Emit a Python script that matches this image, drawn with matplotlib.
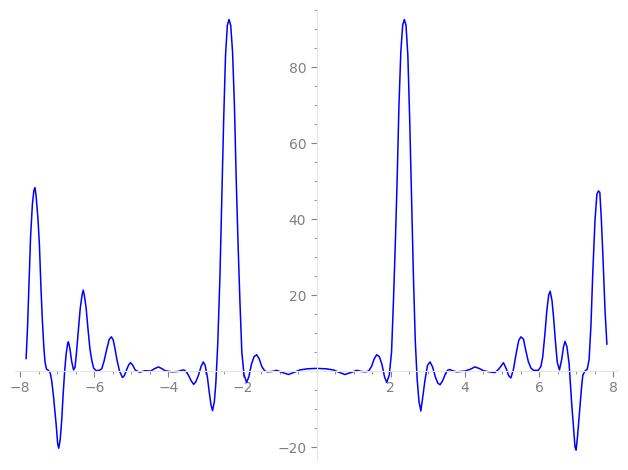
import numpy as np
import matplotlib
matplotlib.use("Agg")
import matplotlib.pyplot as plt
from matplotlib.ticker import MultipleLocator, FuncFormatter

# valores (mitad izquierda)
x_izq = [-7.84, -7.80, -7.76, -7.72, -7.67, -7.63, -7.60, -7.57, -7.52, -7.48,
         -7.44, -7.40, -7.36, -7.33, -7.29, -7.24, -7.19, -7.15, -7.10, -7.06,
         -7.03, -6.99, -6.96, -6.92, -6.88, -6.84, -6.80, -6.76, -6.72, -6.70,
         -6.66, -6.61, -6.56, -6.52, -6.48, -6.43, -6.38, -6.33, -6.30, -6.27,
         -6.22, -6.17, -6.12, -6.07, -6.02, -5.95, -5.86, -5.80, -5.74, -5.67,
         -5.60, -5.54, -5.49, -5.44, -5.39, -5.32, -5.24, -5.19, -5.13, -5.07,
         -5.02, -4.96, -4.90, -4.78, -4.63, -4.48, -4.38, -4.27, -4.17, -4.09,
         -3.91, -3.73, -3.65, -3.58, -3.52, -3.46, -3.39, -3.32, -3.26, -3.19,
         -3.12, -3.06, -3.01, -2.95, -2.90, -2.85, -2.81, -2.76, -2.72, -2.67,
         -2.61, -2.56, -2.51, -2.46, -2.41, -2.365, -2.32, -2.27, -2.22, -2.17,
         -2.12, -2.07, -2.02, -1.96, -1.89, -1.83, -1.76, -1.69, -1.62, -1.55,
         -1.48, -1.40, -1.32, -1.20, -1.08, -0.95, -0.76, -0.60, -0.45, -0.25, 0.0]
y_izq = [3.3, 12, 24, 35.3, 44, 47.5, 48.3, 46, 40, 33,
         22, 13, 6, 2.4, 0.5, 0.2, -0.5, -2.5, -6.8, -11,
         -14, -19, -20.3, -18, -13, -6, 0, 4.5, 7.2, 7.7,
         6, 2.5, 0.3, 1, 5, 10.8, 16.5, 20, 21.3, 20,
         16.5, 11, 6, 2.9, 0.8, 0.1, 0.2, 0.6, 2.5, 5.5,
         8.3, 9.0, 8.2, 5.8, 3, 0, -1.7, -1.2, 0.3, 1.7,
         2.2, 1.5, 0.3, -0.3, 0.1, 0, 0.6, 1.1, 0.6, 0.1,
         -0.2, -0.1, 0.2, 0.3, -0.2, -1.1, -2.5, -3.5, -2.8, -1.1,
         1.2, 2.4, 1.5, -1.5, -5.5, -9, -10.4, -8, -3, 7,
         25, 45, 66, 83, 91, 92.5, 91, 84, 70, 50,
         33, 18, 5, -1, -3.0, -1.5, 1.8, 3.8, 4.3, 3.2,
         1.2, 0, -0.2, -0.1, 0.2, -0.3, -0.9, -0.3, 0.3, 0.6, 0.7]

# mitad derecha
x_der = [0.25, 0.45, 0.60, 0.76, 0.95, 1.08, 1.20, 1.32, 1.40, 1.48,
         1.55, 1.62, 1.69, 1.76, 1.83, 1.89, 1.96, 2.02, 2.07, 2.12,
         2.17, 2.22, 2.27, 2.32, 2.365, 2.41, 2.46, 2.51, 2.56, 2.61,
         2.66, 2.71, 2.76, 2.81, 2.86, 2.92, 2.99, 3.06, 3.13, 3.20,
         3.27, 3.33, 3.40, 3.47, 3.53, 3.59, 3.66, 3.78, 3.90, 4.00,
         4.15, 4.27, 4.38, 4.50, 4.65, 4.81, 4.92, 5.04, 5.12, 5.18,
         5.24, 5.31, 5.38, 5.45, 5.51, 5.58, 5.64, 5.71, 5.78, 5.85,
         5.98, 6.05, 6.10, 6.16, 6.21, 6.26, 6.30, 6.35, 6.39, 6.44,
         6.49, 6.55, 6.61, 6.66, 6.70, 6.75, 6.81, 6.85, 6.88, 6.93,
         6.97, 7.00, 7.04, 7.09, 7.14, 7.18, 7.24, 7.30, 7.35, 7.40,
         7.45, 7.51, 7.56, 7.60, 7.64, 7.68, 7.72, 7.78, 7.83]
y_der = [0.6, 0.3, -0.3, -0.9, -0.3, 0.2, -0.1, -0.2, 0, 1.2,
         3.2, 4.3, 3.8, 1.8, -1.5, -3.0, -1, 5, 18, 33,
         50, 70, 84, 91, 92.5, 91, 83, 66, 45, 25,
         8, -2, -8, -10.5, -7, -2.5, 1.5, 2.4, 1, -1.5,
         -3.2, -3.6, -2.5, -0.8, 0.2, 0.4, 0.1, -0.2, -0.1, 0,
         0.5, 1.1, 0.7, 0.1, -0.2, -0.4, 0.6, 2.2, 0.5, -1.2,
         -1.8, 0.5, 4.5, 8.0, 9.0, 8.4, 5.5, 2.5, 0.8, 0.2,
         0.2, 1.2, 3.8, 10, 16, 20, 21, 18.5, 14.3, 8,
         2.4, 0.3, 3, 6.4, 7.8, 6.5, 2, -4, -8.5, -15,
         -20, -20.8, -17, -11, -5, -1.1, 0, 0.5, 3, 12,
         26, 39.7, 46.5, 47.4, 47, 40, 31, 16, 7.1]

x = x_izq + x_der
y = y_izq + y_der

gris = '#808080'
fig = plt.figure(figsize=(6.28, 4.70), dpi=100)
ax = fig.add_axes([15/628, 10/470, 603/628, 450/470])
ax.plot(x, y, color='blue', linewidth=1.1)

ax.set_xlim(-8.14, 8.13)
ax.set_ylim(-23.4, 95)

for lado in ['top', 'right']:
    ax.spines[lado].set_visible(False)
ax.spines['left'].set_position(('data', 0))
ax.spines['bottom'].set_position(('data', 0))
ax.spines['left'].set_color('#e6e6e6')
ax.spines['bottom'].set_color('#e6e6e6')

ax.xaxis.set_major_locator(MultipleLocator(2))
ax.xaxis.set_minor_locator(MultipleLocator(0.5))
ax.yaxis.set_major_locator(MultipleLocator(20))
ax.yaxis.set_minor_locator(MultipleLocator(5))

def sin_cero(v, pos):
    if abs(v) < 1e-9:
        return ''
    return '%d' % round(v) if v >= 0 else '\u2212%d' % round(-v)

ax.xaxis.set_major_formatter(FuncFormatter(sin_cero))
ax.yaxis.set_major_formatter(FuncFormatter(sin_cero))
ax.tick_params(which='major', length=4, width=0.8, color=gris, labelcolor=gris, labelsize=10)
ax.tick_params(which='minor', length=2, width=0.6, color=gris)

fig.savefig('out.png', dpi=100)
